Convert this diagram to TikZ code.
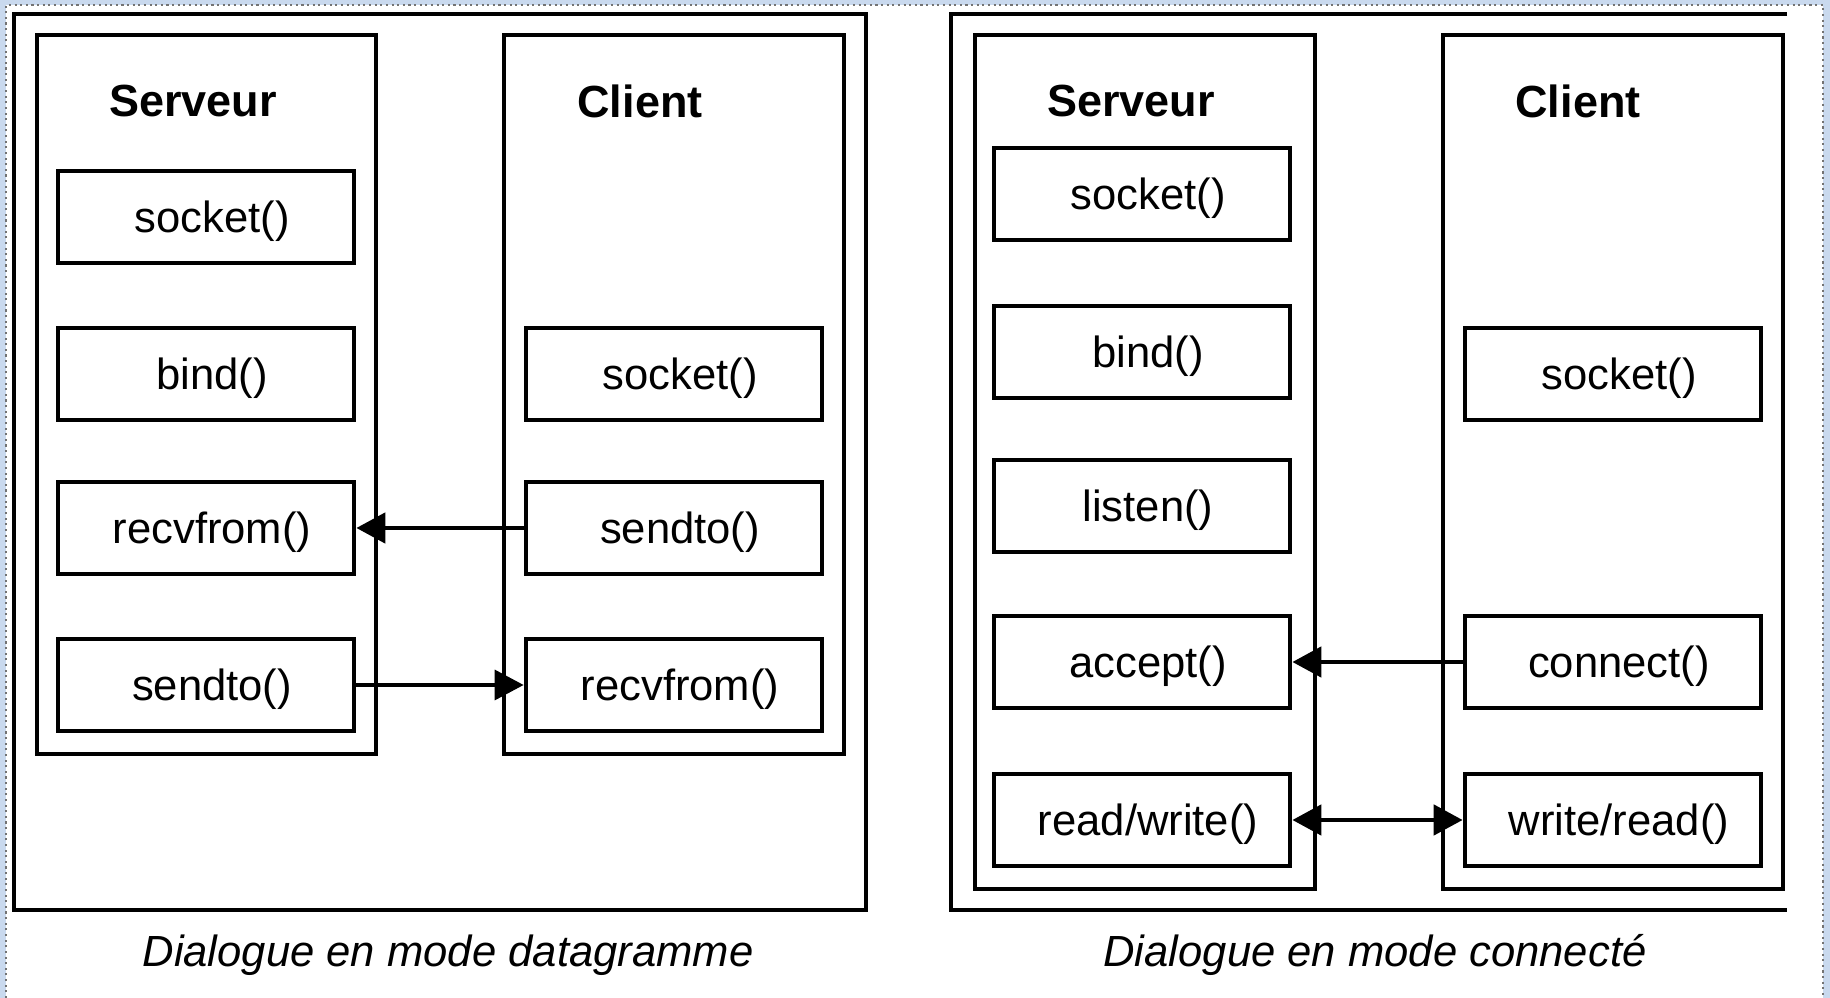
\documentclass[tikz,border=0pt]{standalone}
\usepackage{fontspec}
\setmainfont{Liberation Sans}
\usetikzlibrary{arrows.meta}

\definecolor{shotblue}{RGB}{201,217,238}

\begin{document}
\begin{tikzpicture}[
    x=0.01cm, y=-0.01cm,
    callbox/.style={
        draw=black,
        line width=1.3pt,
        fill=white,
        minimum width=2.96cm,
        minimum height=0.92cm,
        inner sep=0pt,
        text height=0.40cm,
        text depth=0.09cm,
        execute at begin node={\hspace*{0.12cm}},
        font=\fontsize{12.4}{15}\selectfont
    },
    sidebox/.style={
        draw=black,
        line width=1.15pt
    },
    sidetitle/.style={
        font=\fontsize{12.8}{15}\selectfont\bfseries
    },
    caption/.style={
        font=\fontsize{12.4}{15}\selectfont\itshape
    },
    msg/.style={
        line width=1.4pt,
        -{Triangle[length=0.29cm,width=0.3cm]}
    }
]
    \useasboundingbox (0,0) rectangle (1830,998);
    \fill[shotblue] (0,0) rectangle (1830,998);
    \fill[white] (6,5) rectangle (1823,998);
    \draw[densely dotted, black!55, line width=0.6pt] (6,998) -- (6,5) -- (1823,5) -- (1823,998);

    \draw[line width=1pt] (14,14) rectangle (866,910);
    \draw[sidebox] (37,35) rectangle (376,754);
    \draw[sidebox] (504,35) rectangle (844,754);

    \node[sidetitle] (dsrvtitle) at (193,101) {Serveur};
    \node[sidetitle] (dclititle) at (640,101) {Client};

    \node[callbox] (dsrvsocket) at (206,217) {socket()};
    \node[callbox] (dsrvbind) at (206,374) {bind()};
    \node[callbox] (dsrvrecv) at (206,528) {recvfrom()};
    \node[callbox] (dsrvsend) at (206,685) {sendto()};

    \node[callbox] (dclisocket) at (674,374) {socket()};
    \node[callbox] (dclisend) at (674,528) {sendto()};
    \node[callbox] (dclirecv) at (674,685) {recvfrom()};

    \draw[msg] (dclisend.west) -- (dsrvrecv.east);
    \draw[msg, line width=1pt] (dsrvsend.east) -- (dclirecv.west);

    \node[caption] (dcaption) at (448,955) {Dialogue en mode datagramme};

    \draw[line width=1pt] (1787,14) -- (951,14) -- (951,910) -- (1787,910);
    \draw[sidebox] (975,35) rectangle (1315,889);
    \draw[sidebox] (1443,35) rectangle (1783,889);

    \node[sidetitle] (csrvtitle) at (1131,101) {Serveur};
    \node[sidetitle] (cclititle) at (1578,101) {Client};

    \node[callbox] (csrvsocket) at (1142,194) {socket()};
    \node[callbox] (csrvbind) at (1142,352) {bind()};
    \node[callbox] (csrvlisten) at (1142,506) {listen()};
    \node[callbox] (csrvaccept) at (1142,662) {accept()};
    \node[callbox] (csrvrw) at (1142,820) {read/write()};

    \node[callbox] (cclisocket) at (1613,374) {socket()};
    \node[callbox] (cclicon) at (1613,662) {connect()};
    \node[callbox] (ccliwr) at (1613,820) {write/read()};

    \draw[msg] (cclicon.west) -- (csrvaccept.east);
    \draw[msg, {Triangle[length=0.29cm,width=0.3cm]}-{Triangle[length=0.29cm,width=0.3cm]}] (csrvrw.east) -- (ccliwr.west);

    \node[caption] (ccaption) at (1375,955) {Dialogue en mode connecté};
\end{tikzpicture}
\end{document}
